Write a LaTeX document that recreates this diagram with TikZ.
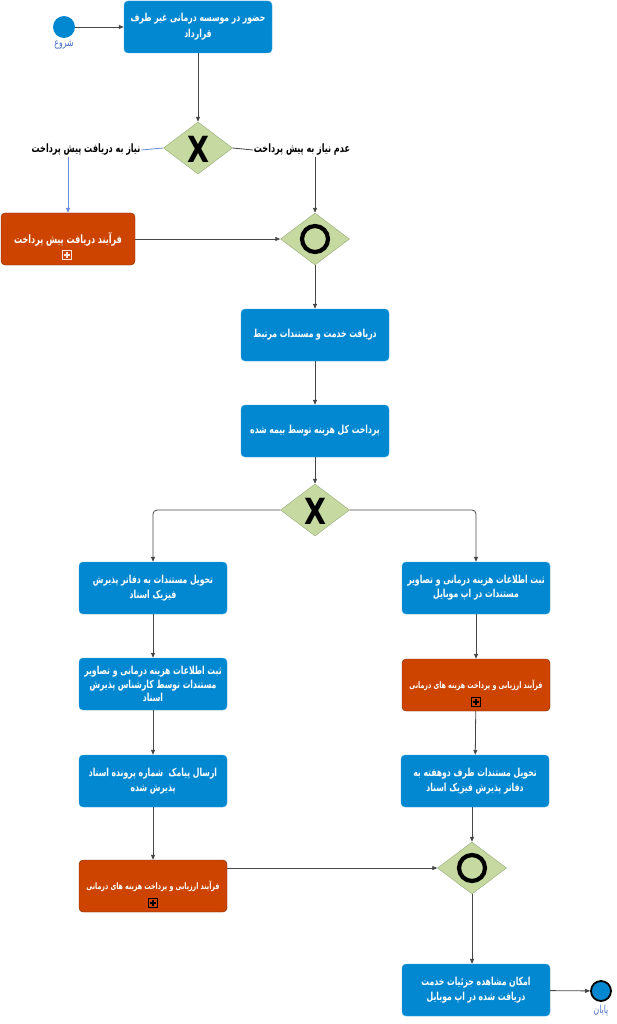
\documentclass[tikz,border=0pt]{standalone}
\usepackage{fontspec}
\usetikzlibrary{arrows.meta,shapes.geometric,calc}
\TeXXeTstate=1
\newfontfamily\arabicfont[Script=Arabic,FakeStretch=0.7]{DejaVu Sans}
\newcommand{\fa}[1]{\beginR #1\endR}
\definecolor{taskblue}{RGB}{2,136,209}
\definecolor{subor}{RGB}{204,68,0}
\definecolor{suborb}{RGB}{120,40,0}
\definecolor{gwfill}{RGB}{197,217,160}
\definecolor{gwdraw}{RGB}{150,170,120}
\definecolor{lblblue}{RGB}{70,110,200}
\definecolor{flowgray}{RGB}{70,70,70}
\definecolor{flowblue}{RGB}{100,140,220}
\tikzset{
  task/.style={rectangle, rounded corners=4pt, fill=taskblue, draw=taskblue!80!white, text=white,
    font=\arabicfont\bfseries\fontsize{11}{15}\selectfont, align=center, inner sep=2pt,
    minimum width=148pt, minimum height=52pt},
  subp/.style={task, fill=subor, draw=suborb, font=\arabicfont\bfseries\fontsize{9}{12}\selectfont},
  gw/.style={diamond, fill=gwfill, draw=gwdraw, minimum width=69pt, minimum height=52pt, inner sep=0pt},
  xmark/.style={font=\fontspec{DejaVu Sans}\bfseries\fontsize{30}{30}\selectfont, inner sep=0pt},
  evt/.style={circle, fill=taskblue, minimum size=22pt, inner sep=0pt},
  evlbl/.style={text=lblblue, font=\arabicfont\fontsize{11}{12}\selectfont, inner sep=1pt},
  glbl/.style={font=\arabicfont\bfseries\fontsize{11.5}{12}\selectfont, inner sep=1pt},
  flow/.style={draw=flowgray, line width=0.8pt, -{Triangle[length=5pt,width=4pt]}},
  flown/.style={draw=flowgray, line width=0.8pt},
  plusm/.style={draw=#1, line width=0.8pt, minimum size=9pt, inner sep=0pt,
    path picture={\draw[#1, line width=1.2pt]
      ([yshift=-1.8pt]path picture bounding box.north) -- ([yshift=1.8pt]path picture bounding box.south)
      ([xshift=1.8pt]path picture bounding box.west) -- ([xshift=-1.8pt]path picture bounding box.east);}},
}
\begin{document}
\begin{tikzpicture}[x=1pt,y=-1pt]
\useasboundingbox (0,0) rectangle (616,1024);
% events
\node[evt] (start) at (64,27) {};
\node[evlbl] (startl) at (64,45) {\fa{شروع}};
\node[evt, draw=black, line width=1.8pt, minimum size=20pt] (end) at (601,991) {};
\node[evlbl] (endl) at (601,1011) {\fa{پایان}};
% tasks
\node[task, font=\arabicfont\bfseries\fontsize{11}{16}\selectfont] (b1) at (198,27) {\fa{حضور در موسسه درمانی غیر طرف}\\\fa{قرارداد}};
\node[gw] (g1) at (198,148) {};
\node[xmark] (g1m) at (198,149) {\scalebox{0.95}[1.2]{X}};
\node[glbl] (lblL) at (86,150) {\fa{نیاز به دریافت پیش پرداخت}};
\node[glbl] (lblR) at (302,150) {\fa{عدم نیاز به پیش پرداخت}};
\node[subp, minimum width=134pt, font=\arabicfont\bfseries\fontsize{11.5}{12}\selectfont] (o1) at (68,239) {\fa{فرآیند دریافت پیش پرداخت}};
\node[plusm=white!85!subor] (o1m) at (67,255) {};
\node[gw] (g2) at (315,239) {};
\draw[line width=4.2pt] (g2.center) circle (13pt);
\node[task] (b2) at (315,335) {\fa{دریافت خدمت و مستندات مرتبط}};
\node[task] (b3) at (315,431) {\fa{پرداخت کل هزینه توسط بیمه شده}};
\node[gw] (g3) at (315,510) {};
\node[xmark] (g3m) at (315,511) {\scalebox{0.95}[1.2]{X}};
\node[task] (L1) at (153,588) {\fa{تحویل مستندات به دفاتر پذیرش}\\\fa{فیزیک اسناد}};
\node[task, font=\arabicfont\bfseries\fontsize{11}{14}\selectfont] (R1) at (476,588) {\fa{ثبت اطلاعات هزینه درمانی و تصاویر}\\\fa{مستندات در اپ موبایل}};
\node[task, font=\arabicfont\bfseries\fontsize{11}{13.5}\selectfont] (L2) at (153,684) {\fa{ثبت اطلاعات هزینه درمانی و تصاویر}\\\fa{مستندات توسط کارشناس پذیرش}\\\fa{اسناد}};
\node[subp] (R2) at (476,685) {\fa{فرآیند ارزیابی و پرداخت هزینه های درمانی}};
\node[plusm=black] (R2m) at (476,702) {};
\node[task] (L3) at (153,781) {\fa{ارسال پیامک\ \ شماره پرونده اسناد}\\\fa{پذیرش شده}};
\node[task] (R3) at (475,781) {\fa{تحویل مستندات ظرف دوهفته به}\\\fa{دفاتر پذیرش فیزیک اسناد}};
\node[subp] (L4) at (153,886) {\fa{فرآیند ارزیابی و پرداخت هزینه های درمانی}};
\node[plusm=black] (L4m) at (153,903) {};
\node[gw] (g4) at (472,868) {};
\draw[line width=4.2pt] (g4.center) circle (13pt);
\node[task] (fin) at (476,990) {\fa{امکان مشاهده جزئیات خدمت}\\\fa{دریافت شده در اپ موبایل}};
% flows
\draw[flow] (start) -- (b1);
\draw[flow] (b1) -- (g1);
\draw[draw=flowblue, line width=0.8pt] (g1.west) -- (lblL.east);
\draw[flow, draw=flowblue] (lblL.south -| o1.north) -- (o1.north);
\draw[flown] (g1.east) -- (lblR.west);
\draw[flow] (lblR.south -| g2.north) -- (g2.north);
\draw[flow] (o1.east) -- (o1.east -| g2.west);
\draw[flow] (g2) -- (b2);
\draw[flow] (b2) -- (b3);
\draw[flow] (b3) -- (g3);
\draw[flow, rounded corners=4pt] (g3.west) -| (L1.north);
\draw[flow, rounded corners=4pt] (g3.east) -| (R1.north);
\draw[flow] (L1) -- (L2);
\draw[flow] (L2) -- (L3);
\draw[flow] (L3) -- (L4);
\draw[flow] (R1) -- (R2);
\draw[flow] (R2) -- (R3);
\draw[flow] (R3.south -| g4.north) -- (g4.north);
\draw[flow] (L4.east |- g4.west) -- (g4.west);
\draw[flow] (g4.south) -- (g4.south |- fin.north);
\draw[flow] (fin) -- (end);
\end{tikzpicture}
\end{document}
